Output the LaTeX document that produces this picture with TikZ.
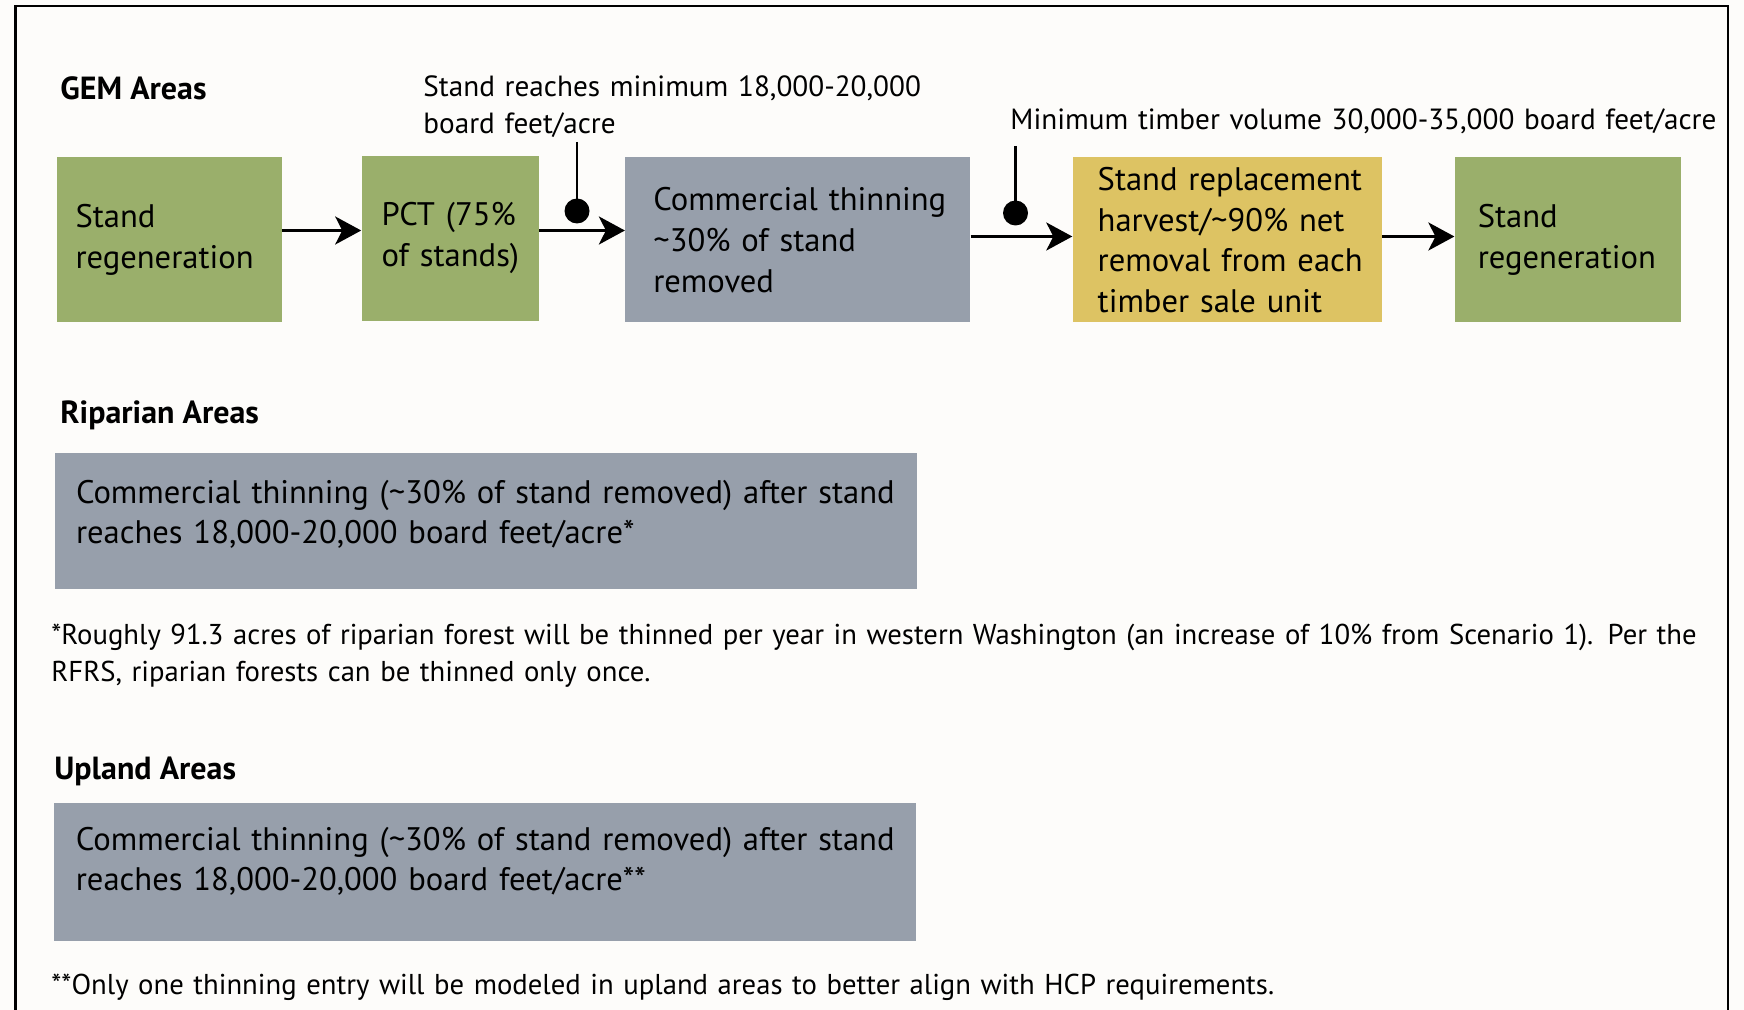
\documentclass[tikz,border=0pt]{standalone}
\usepackage{fontspec}
\setmainfont{PT Sans}
\usetikzlibrary{arrows.meta}
\definecolor{boxgreen}{HTML}{9AAF6B}
\definecolor{boxgray}{HTML}{979FAB}
\definecolor{boxyellow}{HTML}{DDC363}
\definecolor{paper}{HTML}{FDFCFA}
\newcommand{\boxfont}{\fontsize{16.3}{20.3}\selectfont}
\newcommand{\headfont}{\bfseries\fontsize{16}{19}\selectfont}
\newcommand{\lblfont}{\fontsize{14.6}{18.35}\selectfont}
\newcommand{\notefont}{\fontsize{14.35}{18.5}\selectfont}
\begin{document}
\begin{tikzpicture}[x=0.5pt,y=-0.5pt,
  stagebox/.style={rectangle, inner xsep=0pt, inner ysep=0pt, align=left,
     font=\boxfont, minimum height=82.5pt, text=black,
     execute at begin node={\leftskip=#1\relax}},
  wd/.style={minimum width=#1, text width=#1},
  head/.style={anchor=base west, inner sep=0pt, font=\headfont},
  freetext/.style={anchor=base west, inner sep=0pt, align=left},
  arr/.style={line width=1.35pt, -{Stealth[length=13pt,width=14pt,inset=3.5pt]}},
  pin/.style={line width=1.35pt},
  dot/.style={circle, fill=black, inner sep=0pt, minimum size=12.5pt}
]
\useasboundingbox (0,0) rectangle (1744,1010);
\fill[paper] (0,0) rectangle (1744,1010);
\draw[line width=1.25pt] (15.5,1014) -- (15.5,6) -- (1728,6) -- (1728,1014);

% GEM areas
\node[head] (gem) at (60,100) {GEM Areas};
\node[stagebox=9.5pt, wd=112.5pt, fill=boxgreen] (b1) at (169,240) {Stand\\regeneration};
\node[stagebox=10pt, wd=88.6pt, fill=boxgreen] (b2) at (450.2,238.2) {PCT (75\%\\of stands)};
\node[stagebox=14pt, wd=172.5pt, fill=boxgray] (b3) at (797.8,240) {Commercial thinning\\\textasciitilde30\% of stand\\removed};
\node[stagebox=12.5pt, wd=154.6pt, fill=boxyellow] (b4) at (1227.3,240) {Stand replacement\\harvest/\textasciitilde90\% net\\removal from each\\timber sale unit};
\node[stagebox=11.5pt, wd=113.1pt, fill=boxgreen] (b5) at (1567.9,240) {Stand\\regeneration};

\draw[arr] (b1.east |- 0,230.5) -- (b2.west |- 0,230.5);
\draw[arr] (b2.east |- 0,230.5) -- (b3.west |- 0,230.5);
\draw[arr] (b3.east |- 0,236.5) -- (b4.west |- 0,236.5);
\draw[arr] (b4.east |- 0,236.5) -- (b5.west |- 0,236.5);

\coordinate (p1) at (577,142);
\node[dot] (d1) at (577,211) {};
\draw[pin] (p1) -- (d1.center);
\coordinate (p2) at (1015.5,146);
\node[dot] (d2) at (1015.5,213) {};
\draw[pin] (p2) -- (d2.center);

\node[freetext, font=\lblfont, text width=300pt] (l1) at (423,96.5) {Stand reaches minimum 18,000-20,000\\board feet/acre};
\node[freetext, font=\lblfont, text width=400pt] (l2) at (1010,130) {Minimum timber volume 30,000-35,000 board feet/acre};

% Riparian
\node[head] (riph) at (60,423) {Riparian Areas};
\node[rectangle, fill=boxgray, inner sep=0pt, minimum width=431pt, minimum height=68pt, anchor=north west] (rip) at (55,453) {};
\node[freetext, font=\boxfont, text width=425pt] (riptext) at ([xshift=10.3pt,yshift=-25pt]rip.north west)
  {Commercial thinning (\textasciitilde30\% of stand removed) after stand\\reaches 18,000-20,000 board feet/acre*};
\node[freetext, font=\notefont, text width=850pt] (note1) at (51,644)
  {*Roughly 91.3 acres of riparian forest will be thinned per year in western Washington (an increase of 10\% from Scenario 1). Per the\\RFRS, riparian forests can be thinned only once.};

% Upland
\node[head] (uph) at (54,779) {Upland Areas};
\node[rectangle, fill=boxgray, inner sep=0pt, minimum width=431pt, minimum height=69pt, anchor=north west] (up) at (53.5,803) {};
\node[freetext, font=\boxfont, text width=425pt] (uptext) at ([xshift=11pt,yshift=-23.5pt]up.north west)
  {Commercial thinning (\textasciitilde30\% of stand removed) after stand\\reaches 18,000-20,000 board feet/acre**};
\node[freetext, font=\notefont, text width=850pt] (note2) at (51,994)
  {**Only one thinning entry will be modeled in upland areas to better align with HCP requirements.};
\end{tikzpicture}
\end{document}
